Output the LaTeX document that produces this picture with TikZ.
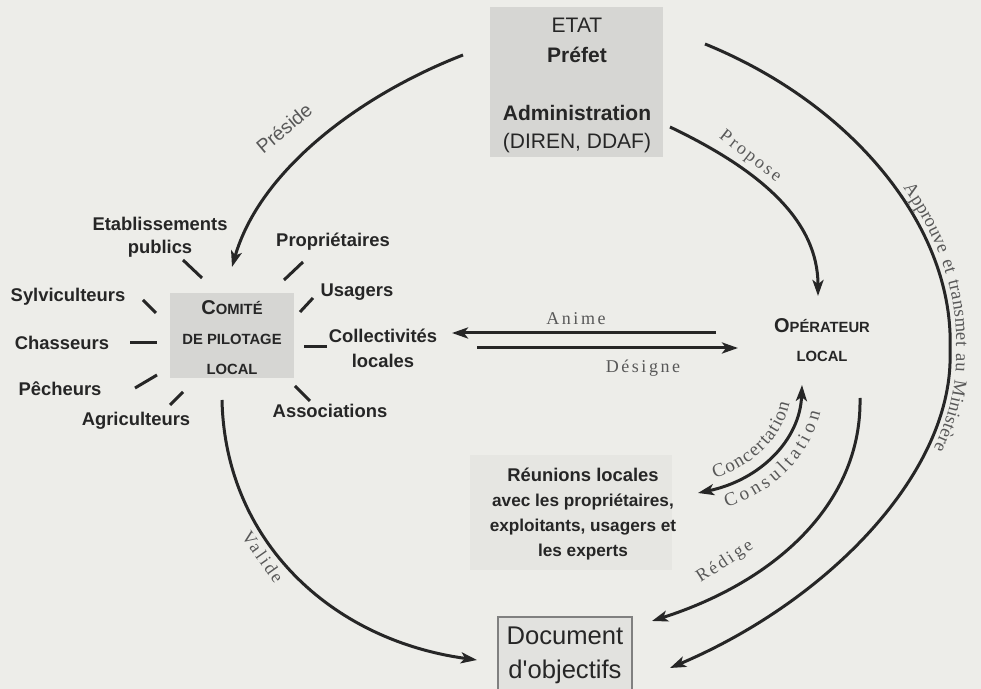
\documentclass[tikz,border=0pt]{standalone}
\usepackage{fontspec}
\setmainfont{Liberation Sans}[Ligatures=TeXOff]
\newfontfamily\arcfont{Liberation Serif}
\newfontfamily\arcspaced{Liberation Serif}[LetterSpace=14]
\usetikzlibrary{arrows.meta,decorations.text}
\definecolor{paper}{RGB}{237,237,233}
\definecolor{boxgray}{RGB}{214,214,211}
\definecolor{docgray}{RGB}{226,226,223}
\definecolor{ink}{RGB}{38,38,38}
\definecolor{arcgray}{RGB}{88,88,88}
\begin{document}
\begin{tikzpicture}[x=0.5pt,y=-0.5pt,
  every node/.style={font=\bfseries\fontsize{9.2}{11.5}\selectfont,text=ink,inner sep=1pt,align=center},
  flow/.style={draw=ink,line width=1.5pt,-{Stealth[length=8pt,width=5.5pt,inset=2pt]}},
  spoke/.style={draw=ink,line width=1.5pt},
  arclabel/.style={font=\arcspaced\fontsize{9}{10}\selectfont,text=arcgray}]
\useasboundingbox (0,0) rectangle (981,689);
\fill[paper] (0,0) rectangle (981,689);
% shaded boxes
\fill[boxgray] (490,7) rectangle (663,157);
\fill[boxgray] (170,293) rectangle (294,378);
\fill[paper!97!black] (470,455) rectangle (672,570);
\filldraw[fill=docgray,draw=gray,line width=0.6pt] (498,617) rectangle (632,700);
% state
\node[font=\fontsize{10.5}{12}\selectfont] (etat) at (577,25) {ETAT};
\node[font=\bfseries\fontsize{10.5}{12}\selectfont] (prefet) at (577,55) {Préfet};
\node[font=\bfseries\fontsize{10.5}{12}\selectfont] (admin) at (577,113) {Administration};
\node[font=\fontsize{10.5}{12}\selectfont] (diren) at (577,143) {(DIREN, DDAF)};
% comite and operateur
\node[font=\bfseries\fontsize{7.4}{15}\selectfont] (comite) at (232,338)
  {{\fontsize{10}{15}\selectfont C}OMITÉ\\DE PILOTAGE\\LOCAL};
\node[font=\bfseries\fontsize{7.4}{14.5}\selectfont] (operateur) at (822,340)
  {{\fontsize{10}{14.5}\selectfont O}PÉRATEUR\\LOCAL};
% members
\node (etab) at (160,237) {Etablissements\\publics};
\node (propr) at (333,242) {Propriétaires};
\node (sylv) at (68,297) {Sylviculteurs};
\node (usag) at (357,292) {Usagers};
\node (chas) at (62,343) {Chasseurs};
\node[font=\bfseries\fontsize{9.2}{12.5}\selectfont] (coll) at (383,348) {Collectivités\\locales};
\node (pech) at (60,389) {Pêcheurs};
\node (agri) at (136,421) {Agriculteurs};
\node (assoc) at (330,411) {Associations};
\node[font=\bfseries\fontsize{8.6}{12.5}\selectfont] (reunions) at (583,514)
  {{\fontsize{9.2}{12.5}\selectfont Réunions locales}\\avec les propriétaires,\\exploitants, usagers et\\les experts};
\node[font=\fontsize{12.8}{17}\selectfont] (doc) at (565,655) {Document\\d'objectifs};
% spokes
\coordinate (etab-a) at (183,260); \coordinate (etab-b) at (202,278);
\coordinate (propr-a) at (303,262); \coordinate (propr-b) at (284,280);
\coordinate (sylv-a) at (143,300); \coordinate (sylv-b) at (156,313);
\coordinate (usag-a) at (313,298); \coordinate (usag-b) at (300,312);
\coordinate (chas-a) at (130,343); \coordinate (chas-b) at (157,343);
\coordinate (coll-a) at (327,347); \coordinate (coll-b) at (304,347);
\coordinate (pech-a) at (135,388); \coordinate (pech-b) at (157,375);
\coordinate (agri-a) at (170,405); \coordinate (agri-b) at (183,392);
\coordinate (assoc-a) at (310,401); \coordinate (assoc-b) at (295,386);
\foreach \s in {etab,propr,sylv,usag,chas,coll,pech,agri,assoc}
  \draw[spoke] (\s-a) -- (\s-b);
% flows
\coordinate (pres-a) at (463,55);
\coordinate (pres-b) at (232,267);
\draw[flow] (pres-a) .. controls (360,95) and (260,170) .. (pres-b);
\node[font=\fontsize{9.7}{11}\selectfont,text=arcgray,rotate=40] (preside) at (284,128) {Préside};
\coordinate (prop-a) at (670,127);
\coordinate (prop-b) at (818,296);
\draw[flow] (prop-a) .. controls (760,170) and (818,220) .. (prop-b);
\node[arclabel,rotate=-38] (propose) at (750,157) {Propose};
\coordinate (appr-a) at (705,44);
\coordinate (appr-m) at (950,350);
\coordinate (appr-b) at (670,668);
\draw[flow] (appr-a) .. controls (855,105) and (955,230) .. (appr-m)
  .. controls (955,470) and (830,600) .. (appr-b);
\path[decorate,decoration={text along path,raise=3pt,text color=arcgray,
    text align={left indent=123pt},
    text={|\arcspaced\fontsize{9.3}{10}\selectfont|Approuve et transmet au Ministère}}]
  (appr-a) .. controls (855,105) and (955,230) .. (appr-m)
  .. controls (955,470) and (830,600) .. (appr-b);
\coordinate (anime-a) at (716,333);
\coordinate (anime-b) at (452,333);
\draw[flow] (anime-a) -- (anime-b);
\node[arclabel] (anime) at (576,319) {Anime};
\coordinate (desig-a) at (477,348);
\coordinate (desig-b) at (738,348);
\draw[flow] (desig-a) -- (desig-b);
\node[arclabel] (designe) at (643,368) {Désigne};
\coordinate (conc-a) at (698,493);
\coordinate (conc-b) at (802,385);
\draw[flow,{Stealth[length=8pt,width=5.5pt,inset=2pt]}-{Stealth[length=8pt,width=5.5pt,inset=2pt]}]
  (conc-a) .. controls (760,480) and (800,440) .. (conc-b);
\path[decorate,decoration={text effects along path,text={Concertation},text align=center,raise=5pt,
    text effects/.cd,text along path,
    characters={text=arcgray,font=\arcfont\fontsize{9.5}{10}\selectfont},
    character widths={inner xsep=0.5pt,font=\arcfont\fontsize{9.5}{10}\selectfont}}]
  (conc-a) .. controls (760,480) and (800,440) .. (conc-b);
\path[decorate,decoration={text effects along path,text={Consultation},text align=center,raise=-11pt,
    text effects/.cd,text along path,
    characters={text=arcgray,font=\arcfont\fontsize{9.5}{10}\selectfont},
    character widths={inner xsep=0.5pt,font=\arcfont\fontsize{9.5}{10}\selectfont}}]
  (conc-a) .. controls (760,480) and (800,440) .. (conc-b);
\coordinate (red-a) at (860,398);
\coordinate (red-b) at (652,621);
\draw[flow] (red-a) .. controls (862,500) and (780,580) .. (red-b);
\node[arclabel,rotate=33] (redige) at (725,562) {Rédige};
\coordinate (val-a) at (222,400);
\coordinate (val-b) at (477,660);
\draw[flow] (val-a) .. controls (225,540) and (330,640) .. (val-b);
\node[arclabel,rotate=-55] (valide) at (263,557) {Valide};
\end{tikzpicture}
\end{document}
